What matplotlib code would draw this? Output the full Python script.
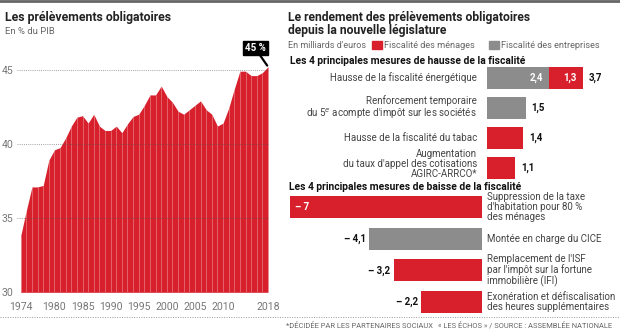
import numpy as np
import matplotlib
matplotlib.use("Agg")
import matplotlib.pyplot as plt
import matplotlib.lines as mlines
import matplotlib.patches as mpatches

plt.rcParams['font.family'] = ['Roboto', 'DejaVu Sans']

# --- data ---
years = list(range(1974, 2019))
po_pib = [33.8, 35.5, 37.1, 37.1, 37.2, 38.9, 39.6, 39.75, 40.4, 41.2,
          41.8, 41.9, 41.4, 42.0, 41.2, 40.9, 40.9, 41.2, 40.75, 41.35,
          41.85, 42.0, 42.6, 43.3, 43.3, 43.9, 43.2, 42.8, 42.2, 42.0,
          42.3, 42.6, 42.9, 42.3, 42.0, 41.2, 41.4, 42.4, 43.7, 44.9,
          44.9, 44.6, 44.6, 44.8, 45.2]
year_ticks = [1974, 1980, 1985, 1990, 1995, 2000, 2005, 2010, 2018]
y_ticks = [30, 35, 40, 45]

hausse_labels = ["Hausse de la fiscalité énergétique",
                 "Renforcement temporaire\ndu 5$^{e}$ acompte d'impôt sur les sociétés",
                 "Hausse de la fiscalité du tabac",
                 "Augmentation\ndu taux d'appel des cotisations\nAGIRC-ARRCO*"]
hausse_entreprises = [2.4, 1.5, 0.0, 0.0]
hausse_menages = [1.3, 0.0, 1.4, 1.1]

baisse_labels = ["Suppression de la taxe\nd'habitation pour 80 %\ndes ménages",
                 "Montée en charge du CICE",
                 "Remplacement de l'ISF\npar l'impôt sur la fortune\nimmobilière (IFI)",
                 "Exonération et défiscalisation\ndes heures supplémentaires"]
baisse_values = [-7.0, -4.1, -3.2, -2.2]
baisse_type = ["menages", "entreprises", "menages", "menages"]

RED = "#d7202c"
GREY = "#8c8c8c"
TXT = "#444444"
LAB = 7.0   # row label size
VAL = 7.0   # value label size

W, H = 620, 332
fig = plt.figure(figsize=(W / 100, H / 100), dpi=100)


def box(x0, y0, x1, y1):
    # pixel box -> figure fraction rect
    return [x0 / W, 1 - y1 / H, (x1 - x0) / W, (y1 - y0) / H]


def fxy(x, y):
    return x / W, 1 - y / H


def fr(v):
    return ("%g" % abs(v)).replace(".", ",")


# --- frame lines ---
fig.add_artist(mlines.Line2D([0, 1], [1 - 1 / H, 1 - 1 / H], color="#666666", lw=2))
fig.add_artist(mlines.Line2D([0, 1], [1 - 317 / H, 1 - 317 / H], color="#999999",
                             lw=0.7, ls=(0, (1, 1.5))))
fig.text(*fxy(286, 326), "*DÉCIDÉE PAR LES PARTENAIRES SOCIAUX", fontsize=5.4,
         color="#666666", va="center")
fig.text(*fxy(612, 326), "« LES ÉCHOS » / SOURCE : ASSEMBLÉE NATIONALE", fontsize=5.4,
         color="#666666", va="center", ha="right")

# --- left chart ---
fig.text(*fxy(5, 17), "Les prélèvements obligatoires", fontsize=8.8,
         fontweight="bold", color="#222222", va="center")
fig.text(*fxy(5, 32), "En % du PIB", fontsize=6.8, color="#666666", va="center")

ax = fig.add_axes(box(20.7, 40, 268, 292.3))
ax.fill_between(years, 30, po_pib, color=RED, lw=0, zorder=1)
ax.vlines(years, 30, po_pib, color="white", alpha=0.35, lw=0.6, zorder=2)
for yv in y_ticks[1:]:
    ax.plot([1973.3, 2018], [yv, yv], color="#555555", alpha=0.55, lw=0.7,
            ls=(0, (1, 1.2)), zorder=3, clip_on=False)
ax.set_xlim(1974, 2018)
ax.set_ylim(30, 47)
ax.set_xticks(year_ticks)
ax.set_yticks(y_ticks)
ax.tick_params(length=0, labelsize=7.6, colors="#777777", pad=5)
ax.tick_params(axis="x", pad=7)
for s in ax.spines.values():
    s.set_visible(False)
ax.patch.set_alpha(0)
ax.annotate("45 %", xy=(years[-1], po_pib[-1]), xytext=(2015.7, 46.45),
            fontsize=7, fontweight="bold", color="white", ha="center", va="center",
            bbox=dict(boxstyle="square,pad=0.22", fc="black", ec="black"),
            arrowprops=dict(arrowstyle="-", color="black", lw=1.6,
                            shrinkA=0, shrinkB=1),
            annotation_clip=False)

# --- right chart ---
fig.text(*fxy(288, 24), "Le rendement des prélèvements obligatoires\ndepuis la nouvelle législature",
         fontsize=8.7, fontweight="bold", color="#222222", va="center", linespacing=1.05)
fig.text(*fxy(288, 45), "En milliards d'euros", fontsize=6.5, color="#666666", va="center")
fig.add_artist(mpatches.Rectangle(fxy(372, 49), 10 / W, 8 / H, color=RED, transform=fig.transFigure))
fig.text(*fxy(384, 45), "Fiscalité des ménages", fontsize=6.6, color="#666666", va="center")
fig.add_artist(mpatches.Rectangle(fxy(489, 49), 10 / W, 8 / H, color=GREY, transform=fig.transFigure))
fig.text(*fxy(501, 45), "Fiscalité des entreprises", fontsize=6.6, color="#666666", va="center")

fig.text(*fxy(290, 61), "Les 4 principales mesures de hausse de la fiscalité",
         fontsize=7.4, fontweight="bold", color="#111111", va="center")
fig.text(*fxy(289, 187), "Les 4 principales mesures de baisse de la fiscalité",
         fontsize=7.4, fontweight="bold", color="#111111", va="center")

# upper bars
ax1 = fig.add_axes(box(280, 63, 620, 183))
pos = np.arange(len(hausse_labels))
ent = np.array(hausse_entreprises)
men = np.array(hausse_menages)
ax1.barh(pos, ent, height=0.73, color=GREY, lw=0)
ax1.barh(pos, men, left=ent, height=0.73, color=RED, lw=0)
ax1.set_xlim(-(486.7 - 280) / 26.1, (620 - 486.7) / 26.1)
ax1.set_ylim(3.5, -0.5)
for i in range(len(pos)):
    tot = ent[i] + men[i]
    nl = hausse_labels[i].count("\n")
    ax1.annotate(fr(tot), (tot, i), xytext=(4, 0), textcoords="offset points",
                 fontsize=VAL, fontweight="bold", color="#111111", va="center")
    ax1.annotate(hausse_labels[i], (0, i - 0.13 * max(0, nl - 1)),
                 xytext=(-7, 0), textcoords="offset points", fontsize=LAB,
                 color=TXT, va="center", ha="right", linespacing=1.02)
    if ent[i] > 0 and men[i] > 0:
        ax1.annotate(fr(ent[i]), (ent[i], i), xytext=(-4.5, 0), textcoords="offset points",
                     fontsize=VAL, fontweight="bold", color="white", va="center", ha="right")
        ax1.annotate(fr(men[i]), (tot, i), xytext=(-4.5, 0), textcoords="offset points",
                     fontsize=VAL, fontweight="bold", color="white", va="center", ha="right")
ax1.axis("off")

# lower bars
ax2 = fig.add_axes(box(280, 191, 620, 318))
pos2 = np.arange(len(baisse_values))
cols = [RED if t == "menages" else GREY for t in baisse_type]
ax2.barh(pos2, baisse_values, height=0.7, color=cols, lw=0)
ax2.set_xlim(-(481.7 - 280) / 27.4, (620 - 481.7) / 27.4)
ax2.set_ylim(3.5, -0.5)
for i, v in enumerate(baisse_values):
    lab = "– " + fr(v)
    if abs(v) > 5:
        ax2.annotate(lab, (v, i), xytext=(4, 0), textcoords="offset points",
                     fontsize=VAL, fontweight="bold", color="white", va="center")
    else:
        ax2.annotate(lab, (v, i), xytext=(-2.5, 0), textcoords="offset points",
                     fontsize=VAL, fontweight="bold", color="#111111", va="center", ha="right")
    ax2.annotate(baisse_labels[i], (0, i), xytext=(3.5, 0), textcoords="offset points",
                 fontsize=LAB, color=TXT, va="center", ha="left", linespacing=1.02)
ax2.axis("off")

fig.savefig("out.png", dpi=100)
